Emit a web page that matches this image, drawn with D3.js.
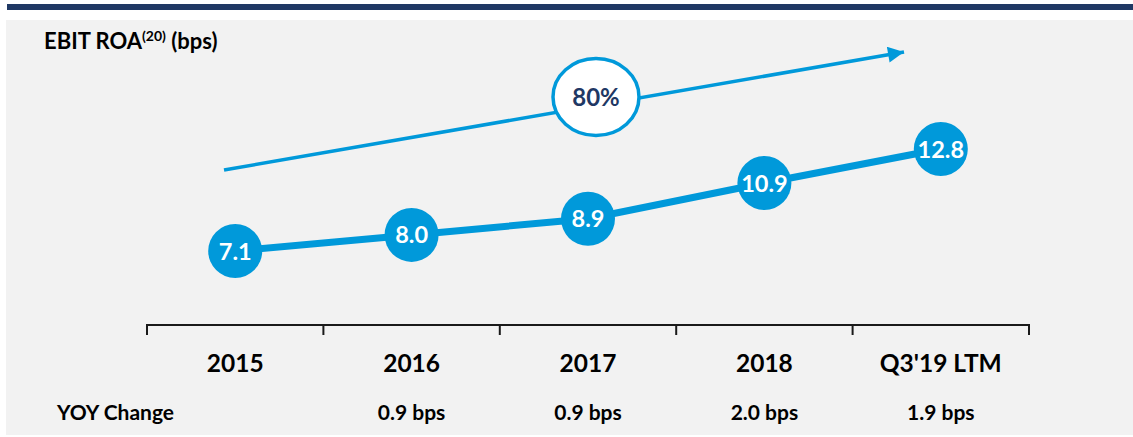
<!DOCTYPE html>
<html>
<head>
<meta charset="utf-8">
<script src="https://cdn.jsdelivr.net/npm/d3@7/dist/d3.min.js"></script>
<style>
  html, body { margin: 0; padding: 0; background: #ffffff; }
  svg { display: block; }
  text { font-family: Lato, "Open Sans", sans-serif; font-weight: bold; }
</style>
</head>
<body>
<svg id="chart" width="1133" height="437"></svg>
<script>
// ---- data ----
const categories = ["2015", "2016", "2017", "2018", "Q3'19 LTM"];
const roaValues = [7.1, 8.0, 8.9, 10.9, 12.8];
const yoyLabels = ["", "0.9 bps", "0.9 bps", "2.0 bps", "1.9 bps"];
const growthLabel = "80%";
const titleMain = "EBIT ROA";
const titleSup = "(20)";
const titleTail = " (bps)";
const yoyTitle = "YOY Change";

// ---- styles ----
const BLUE = "#0099da";
const NAVY = "#1f3864";

const svg = d3.select("#chart");

// header bar and panel
svg.append("rect").attr("x", 7).attr("y", 4).attr("width", 1126).attr("height", 6).attr("fill", NAVY);
svg.append("rect").attr("x", 6).attr("y", 20).attr("width", 1127).attr("height", 415).attr("fill", "#f2f2f2");

// scales
const x = d3.scaleBand().domain(categories).range([147, 1029]).padding(0);
const y = d3.scaleLinear().domain([7.1, 12.8]).range([251, 149]);
const cx = d => x(d) + x.bandwidth() / 2;

// title
const title = svg.append("text").attr("x", 44).attr("y", 49).attr("font-size", 22).attr("fill", "#000");
title.append("tspan").text(titleMain);
title.append("tspan").attr("font-size", 14).attr("dy", -8).text(titleSup);
title.append("tspan").attr("dy", 8).text(titleTail);

// growth arrow
const defs = svg.append("defs");
defs.append("marker").attr("id", "ah").attr("viewBox", "0 0 10 10")
  .attr("refX", 10).attr("refY", 5).attr("markerWidth", 17).attr("markerHeight", 16)
  .attr("markerUnits", "userSpaceOnUse").attr("orient", "auto")
  .append("path").attr("d", "M0,0 L10,5 L0,10 Z").attr("fill", BLUE);
const arrowStart = [224, 170], arrowEnd = [904, 52];
svg.append("line")
  .attr("x1", arrowStart[0]).attr("y1", arrowStart[1])
  .attr("x2", arrowEnd[0]).attr("y2", arrowEnd[1])
  .attr("stroke", BLUE).attr("stroke-width", 3.5).attr("marker-end", "url(#ah)");

svg.append("ellipse").attr("cx", 596).attr("cy", 97).attr("rx", 43).attr("ry", 38.5)
  .attr("fill", "#ffffff").attr("stroke", BLUE).attr("stroke-width", 3.5);
svg.append("text").attr("x", 596).attr("y", 106).attr("text-anchor", "middle")
  .attr("font-size", 24).attr("fill", NAVY).text(growthLabel);

// line + bubbles
const pts = categories.map((c, i) => ({ c, v: roaValues[i] }));
svg.append("path").datum(pts)
  .attr("d", d3.line().x(d => cx(d.c)).y(d => y(d.v)))
  .attr("fill", "none").attr("stroke", BLUE).attr("stroke-width", 7);
const g = svg.append("g").selectAll("g").data(pts).join("g")
  .attr("transform", d => `translate(${cx(d.c)},${y(d.v)})`);
g.append("circle").attr("r", 27).attr("fill", BLUE);
g.append("text").attr("text-anchor", "middle").attr("y", 8.5).attr("font-size", 23.5)
  .attr("fill", "#fff").text(d => d.v.toFixed(1));

// axis with ticks at band boundaries
const axisY = 325;
const bounds = categories.map(c => x(c)).concat([x.range()[1]]);
svg.append("path")
  .attr("d", `M${bounds[0]},${axisY + 10}V${axisY}H${bounds[bounds.length - 1]}V${axisY + 10}`)
  .attr("fill", "none").attr("stroke", "#1a1a1a").attr("stroke-width", 2);
svg.append("g").selectAll("line").data(bounds.slice(1, -1)).join("line")
  .attr("x1", d => d).attr("x2", d => d).attr("y1", axisY).attr("y2", axisY + 10)
  .attr("stroke", "#1a1a1a").attr("stroke-width", 2);

// category labels
svg.append("g").selectAll("text").data(categories).join("text")
  .attr("x", d => cx(d)).attr("y", 372).attr("text-anchor", "middle")
  .attr("font-size", 24.5).attr("fill", "#000").text(d => d);

// YOY row
svg.append("text").attr("x", 57).attr("y", 420).attr("font-size", 21).attr("fill", "#000").text(yoyTitle);
svg.append("g").selectAll("text").data(categories).join("text")
  .attr("x", d => cx(d)).attr("y", 420).attr("text-anchor", "middle")
  .attr("font-size", 21).attr("fill", "#000").text((d, i) => yoyLabels[i]);
</script>
</body>
</html>
